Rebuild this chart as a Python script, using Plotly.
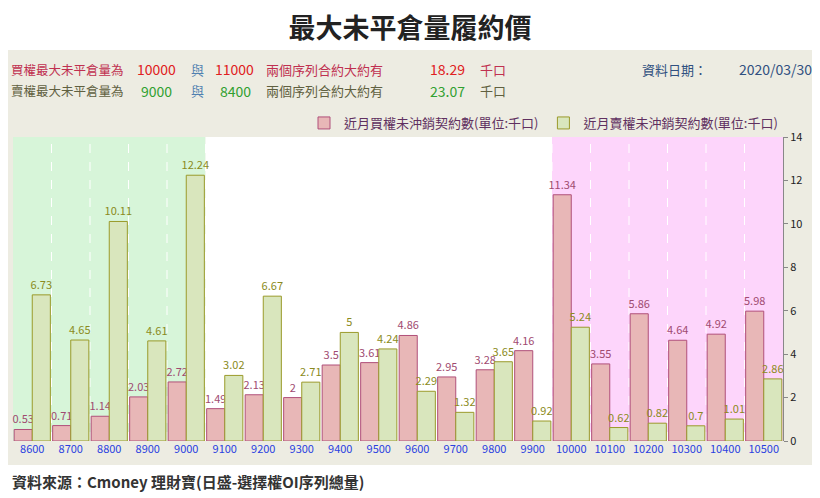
import plotly.graph_objects as go

strikes = ["8600", "8700", "8800", "8900", "9000", "9100", "9200", "9300", "9400", "9500",
           "9600", "9700", "9800", "9900", "10000", "10100", "10200", "10300", "10400", "10500"]
call_oi = [0.53, 0.71, 1.14, 2.03, 2.72, 1.49, 2.13, 2, 3.5, 3.61,
           4.86, 2.95, 3.28, 4.16, 11.34, 3.55, 5.86, 4.64, 4.92, 5.98]
put_oi = [6.73, 4.65, 10.11, 4.61, 12.24, 3.02, 6.67, 2.71, 5, 4.24,
          2.29, 1.32, 3.65, 0.92, 5.24, 0.62, 0.82, 0.7, 1.01, 2.86]

# the page has an 8px body margin: lay out in reference pixels minus 8
OFF = 8
W, H = 820 - OFF, 498 - OFF
PT, PB = 137 - OFF, 441 - OFF
PL, PR = 13 - OFF, 783 - OFF


def py(p):
    return (PB - (p - OFF)) / (PB - PT)


def px(p):
    return ((p - OFF) - PL) / (PR - PL)


fig = go.Figure()
fig.add_bar(x=strikes, y=call_oi, name="近月買權未沖銷契約數(單位:千口)",
            marker=dict(color="#e8b7b7", line=dict(color="#b0507a", width=1)),
            text=[f"{v:g}" for v in call_oi], textposition="outside",
            textfont=dict(color="#a04a70", size=11), cliponaxis=False,
            textangle=0, constraintext="none")
fig.add_bar(x=strikes, y=put_oi, name="近月賣權未沖銷契約數(單位:千口)",
            marker=dict(color="#d9e6bd", line=dict(color="#9a9a2a", width=1)),
            text=[f"{v:g}" for v in put_oi], textposition="outside",
            textfont=dict(color="#8a8a20", size=11), cliponaxis=False,
            textangle=0, constraintext="none")

shapes = [
    dict(type="rect", xref="paper", yref="paper", x0=px(0), x1=px(830), y0=py(465), y1=py(50),
         fillcolor="#edece2", line_width=0, layer="below"),
    dict(type="rect", xref="x", yref="paper", x0=-0.5, x1=4.5, y0=0, y1=1,
         fillcolor="#d7f5d9", line_width=0, layer="below"),
    dict(type="rect", xref="x", yref="paper", x0=4.5, x1=13.5, y0=0, y1=1,
         fillcolor="white", line_width=0, layer="below"),
    dict(type="rect", xref="x", yref="paper", x0=13.5, x1=19.5, y0=0, y1=1,
         fillcolor="#fdd5fb", line_width=0, layer="below"),
]
for i in range(len(strikes) - 1):
    shapes.append(dict(type="line", xref="x", yref="paper", x0=i + 0.5, x1=i + 0.5, y0=0, y1=1,
                       line=dict(color="white", width=1, dash="dash"), layer="below"))


def ann(x, p, t, color, size=13):
    return dict(xref="paper", yref="paper", x=px(x), y=py(p), text=t, showarrow=False,
                xanchor="left", yanchor="middle", font=dict(color=color, size=size))


anns = [
    ann(9, 69, "買權最大未平倉量為", "#c03050", 12.5),
    ann(135, 69, "10000", "#e02020", 14),
    ann(189, 69, "與", "#5080b0"),
    ann(213, 69, "11000", "#e02020", 14),
    ann(264, 69, "兩個序列合約大約有", "#c03050"),
    ann(428, 69, "18.29", "#e02020", 14),
    ann(478, 69, "千口", "#c03050"),
    ann(640, 69, "資料日期：", "#305080"),
    ann(737, 69, "2020/03/30", "#305080", 14),
    ann(9, 91, "賣權最大未平倉量為", "#606040", 12.5),
    ann(139, 91, "9000", "#30a030", 14),
    ann(189, 91, "與", "#5080b0"),
    ann(218, 91, "8400", "#30a030", 14),
    ann(264, 91, "兩個序列合約大約有", "#606040"),
    ann(428, 91, "23.07", "#30a030", 14),
    ann(478, 91, "千口", "#606040"),
    ann(10, 481, "<b>資料來源：Cmoney 理財寶(日盛-選擇權OI序列總量)</b>", "#333", 15),
]

fig.update_layout(
    width=W, height=H, margin=dict(l=PL, r=W - PR, t=PT, b=H - PB),
    paper_bgcolor="white", plot_bgcolor="white",
    font=dict(family="Noto Sans CJK TC, Noto Sans, sans-serif"),
    title=dict(text="<b>最大未平倉量履約價</b>", x=(410 - OFF) / W, xanchor="center",
               y=1 - (29 - OFF) / H, yanchor="middle", yref="container",
               font=dict(size=27, color="#222")),
    barmode="group", bargap=0.06, bargroupgap=0,
    shapes=shapes, annotations=anns,
    legend=dict(orientation="h", x=1, xanchor="right", y=py(123), yanchor="middle",
                bgcolor="rgba(0,0,0,0)", font=dict(size=13, color="#603060"),
                itemwidth=30, tracegroupgap=0),
    xaxis=dict(tickfont=dict(color="#2a40e0", size=11), showline=False, showgrid=False),
    yaxis=dict(side="right", range=[0, 14], dtick=2, showgrid=False, zeroline=False,
               tickfont=dict(color="#222", size=11), ticks="outside", ticklen=4,
               tickcolor="#888", showline=True, linecolor="#888"),
)
fig.write_html("out.html")
